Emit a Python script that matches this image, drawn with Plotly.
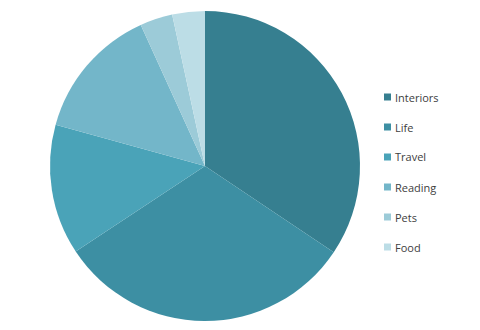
import plotly.graph_objects as go

categories = ["Interiors", "Life", "Travel", "Reading", "Pets", "Food"]
values = [34.4, 31.3, 13.6, 13.9, 3.4, 3.4]
colors = ["#367f90", "#3d8fa3", "#4aa3b8", "#73b6c9", "#9ccbd8", "#bcdde6"]

W, H = 480, 330
cx, cy, r = 205, 166, 155

fig = go.Figure()
fig.add_trace(go.Pie(
    labels=categories, values=values, sort=False, direction="clockwise",
    rotation=0, textinfo="none", hoverinfo="label+percent",
    marker=dict(colors=colors, line=dict(width=0)),
    showlegend=False,
    domain=dict(x=[(cx - r) / W, (cx + r) / W], y=[(H - cy - r) / H, (H - cy + r) / H]),
))

# legend built from categories
lx, ly0, dy, sq = 384, 97, 30, 7
for i, (name, col) in enumerate(zip(categories, colors)):
    y = ly0 + i * dy
    fig.add_shape(type="rect", xref="paper", yref="paper",
                  x0=lx / W, x1=(lx + sq) / W,
                  y0=(H - y - sq / 2) / H, y1=(H - y + sq / 2) / H,
                  fillcolor=col, line=dict(width=0))
    fig.add_annotation(x=(lx + 9) / W, y=(H - y) / H, xref="paper", yref="paper",
                       text=name, showarrow=False, xanchor="left", yanchor="middle",
                       font=dict(family="Open Sans", size=11, color="#404040"))

fig.update_layout(width=W, height=H, margin=dict(l=0, r=0, t=0, b=0),
                  paper_bgcolor="white", plot_bgcolor="white")
fig.write_html("out.html")
